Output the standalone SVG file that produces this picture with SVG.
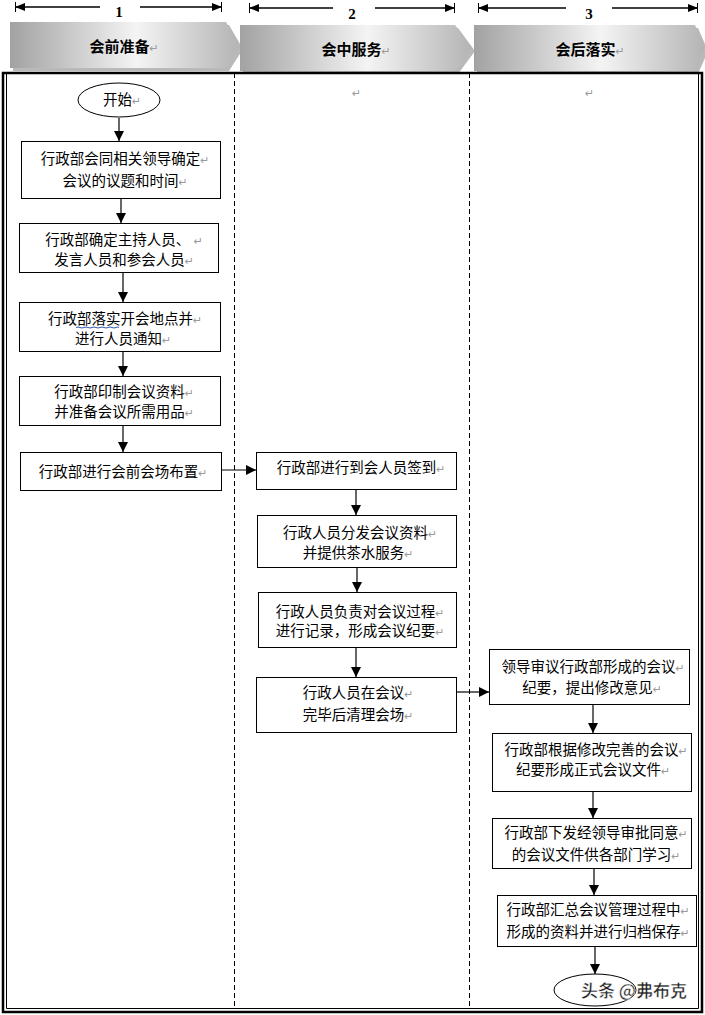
<svg xmlns="http://www.w3.org/2000/svg" width="705" height="1015" viewBox="0 0 705 1015">
<defs>
<linearGradient id="hg" x1="0" y1="0" x2="1" y2="0">
<stop offset="0" stop-color="#a2a2a2"/>
<stop offset="0.55" stop-color="#f4f4f4"/>
<stop offset="1" stop-color="#b4b4b4"/>
</linearGradient>
<marker id="ah" viewBox="0 0 10 10" refX="10" refY="5" markerWidth="10" markerHeight="10" markerUnits="userSpaceOnUse" orient="auto">
<path d="M0,0 L10,5 L0,10 z" fill="#000"/>
</marker>
<marker id="dimE" viewBox="0 0 10 10" refX="10" refY="5" markerWidth="10" markerHeight="10" markerUnits="userSpaceOnUse" orient="auto">
<path d="M0,1 L10,5 L0,9 z" fill="#000"/><path d="M10,0 L10,10" stroke="#000" stroke-width="2"/>
</marker>
<marker id="dimS" viewBox="0 0 10 10" refX="0" refY="5" markerWidth="10" markerHeight="10" markerUnits="userSpaceOnUse" orient="auto">
<path d="M10,1 L0,5 L10,9 z" fill="#000"/><path d="M0,0 L0,10" stroke="#000" stroke-width="2"/>
</marker>
</defs>
<style>
.box{fill:#fff;stroke:#000;stroke-width:1}
.t{font-family:"Noto Sans CJK SC","Noto Sans",sans-serif;font-size:14.5px;fill:#000;text-anchor:middle}
.h{font-family:"Noto Sans CJK SC","Noto Sans",sans-serif;font-size:15px;font-weight:bold;fill:#000;text-anchor:middle}
.n{font-family:"Liberation Serif",serif;font-size:15px;font-weight:bold;fill:#000;text-anchor:middle}
.p{font-family:"DejaVu Sans",sans-serif;font-size:11px;fill:#9a9a9a;font-weight:normal}
.c{fill:none;stroke:#000;stroke-width:1.2}
.lane{stroke:#000;stroke-width:1;stroke-dasharray:5,3}
</style>
<rect width="705" height="1015" fill="#fff"/>

<g id="dimensions">
<line x1="15" y1="7" x2="100" y2="7" stroke="#000" stroke-width="1.5" marker-start="url(#dimS)"/>
<line x1="140" y1="7" x2="222" y2="7" stroke="#000" stroke-width="1.5" marker-end="url(#dimE)"/>
<text class="n" x="119" y="17">1</text>
<line x1="249" y1="8" x2="333" y2="8" stroke="#000" stroke-width="1.5" marker-start="url(#dimS)"/>
<line x1="375" y1="8" x2="455" y2="8" stroke="#000" stroke-width="1.5" marker-end="url(#dimE)"/>
<text class="n" x="352" y="19">2</text>
<line x1="478" y1="8" x2="566" y2="8" stroke="#000" stroke-width="1.5" marker-start="url(#dimS)"/>
<line x1="612" y1="8" x2="698" y2="8" stroke="#000" stroke-width="1.5" marker-end="url(#dimE)"/>
<text class="n" x="589" y="19">3</text>
</g>

<g id="header1">
<polygon points="13,25 229,25 243,49 229,71 13,71" fill="#8a8a8a" opacity="0.6"/>
<polygon points="10,22 226,22 240,46 226,68 10,68" fill="url(#hg)"/>
<text class="h" x="124" y="52">会前准备<tspan class="p">↵</tspan></text>
</g>
<g id="header2">
<polygon points="243,28 458,28 475,51 458,74 243,74" fill="#8a8a8a" opacity="0.6"/>
<polygon points="240,25 455,25 472,48 455,71 240,71" fill="url(#hg)"/>
<text class="h" x="356" y="55">会中服务<tspan class="p">↵</tspan></text>
</g>
<g id="header3">
<polygon points="477,28 698,28 708,51 698,74 477,74" fill="#8a8a8a" opacity="0.6"/>
<polygon points="474,25 695,25 705,48 695,71 474,71" fill="url(#hg)"/>
<text class="h" x="590" y="55">会后落实<tspan class="p">↵</tspan></text>
</g>

<g id="frame">
<rect x="3" y="73" width="699" height="939" fill="none" stroke="#000" stroke-width="2.5"/>
<path d="M6.5,73 V1008.5 H698.5 V73" fill="none" stroke="#000" stroke-width="1"/>
<line x1="234.5" y1="73" x2="234.5" y2="1008" class="lane"/>
<line x1="469.5" y1="73" x2="469.5" y2="1008" class="lane"/>
<text class="p" x="352" y="97">↵</text>
<text class="p" x="585" y="97">↵</text>
</g>

<g id="connectors">
<line x1="119" y1="118" x2="119" y2="141" class="c" marker-end="url(#ah)"/>
<line x1="121" y1="198" x2="121" y2="223" class="c" marker-end="url(#ah)"/>
<line x1="123" y1="273" x2="123" y2="302" class="c" marker-end="url(#ah)"/>
<line x1="123" y1="352" x2="123" y2="376" class="c" marker-end="url(#ah)"/>
<line x1="123" y1="426" x2="123" y2="452" class="c" marker-end="url(#ah)"/>
<line x1="221" y1="470" x2="256" y2="470" class="c" marker-end="url(#ah)"/>
<line x1="356" y1="490" x2="356" y2="515" class="c" marker-end="url(#ah)"/>
<line x1="357" y1="567" x2="357" y2="592" class="c" marker-end="url(#ah)"/>
<line x1="356" y1="648" x2="356" y2="677" class="c" marker-end="url(#ah)"/>
<line x1="457" y1="692" x2="489" y2="692" class="c" marker-end="url(#ah)"/>
<line x1="593" y1="704" x2="593" y2="733" class="c" marker-end="url(#ah)"/>
<line x1="593" y1="792" x2="593" y2="818" class="c" marker-end="url(#ah)"/>
<line x1="594" y1="869" x2="594" y2="895" class="c" marker-end="url(#ah)"/>
<line x1="595" y1="947" x2="595" y2="974" class="c" marker-end="url(#ah)"/>
</g>

<g id="start">
<ellipse cx="119" cy="100" rx="41" ry="17" class="box"/>
<text class="t" x="122" y="105">开始<tspan class="p">↵</tspan></text>
</g>
<g id="n1">
<rect x="21.5" y="141.5" width="199" height="57" class="box"/>
<text class="t" x="125" y="164">行政部会同相关领导确定<tspan class="p">↵</tspan></text>
<text class="t" x="125" y="186">会议的议题和时间<tspan class="p">↵</tspan></text>
</g>
<g id="n2">
<rect x="19.5" y="223.5" width="199" height="49" class="box"/>
<text class="t" x="124" y="245">行政部确定主持人员、<tspan class="p"> ↵</tspan></text>
<text class="t" x="124" y="265">发言人员和参会人员<tspan class="p">↵</tspan></text>
</g>
<g id="n3">
<rect x="19.5" y="302.5" width="201" height="49" class="box"/>
<text class="t" x="125" y="324">行政部落实开会地点并<tspan class="p">↵</tspan></text>
<text class="t" x="123" y="344">进行人员通知<tspan class="p">↵</tspan></text>
<path d="M76,327.5 Q78,326.5 80,327.5 T84,327.5 T88,327.5 T92,327.5 T96,327.5 T100,327.5 T104,327.5 T108,327.5 T112,327.5 T116,327.5 T119,327.5" fill="none" stroke="#3355aa" stroke-width="1"/>
</g>
<g id="n4">
<rect x="19.5" y="376.5" width="201" height="49" class="box"/>
<text class="t" x="124" y="397">行政部印制会议资料<tspan class="p">↵</tspan></text>
<text class="t" x="124" y="417">并准备会议所需用品<tspan class="p">↵</tspan></text>
</g>
<g id="n5">
<rect x="20.5" y="452.5" width="201" height="38" class="box"/>
<text class="t" x="123" y="477">行政部进行会前会场布置<tspan class="p">↵</tspan></text>
</g>
<g id="n6">
<rect x="256.5" y="452.5" width="200" height="37" class="box"/>
<text class="t" x="361" y="473">行政部进行到会人员签到<tspan class="p">↵</tspan></text>
</g>
<g id="n7">
<rect x="257.5" y="515.5" width="199" height="52" class="box"/>
<text class="t" x="360" y="538">行政人员分发会议资料<tspan class="p">↵</tspan></text>
<text class="t" x="358" y="558">并提供茶水服务<tspan class="p">↵</tspan></text>
</g>
<g id="n8">
<rect x="258.5" y="592.5" width="198" height="55" class="box"/>
<text class="t" x="360" y="617">行政人员负责对会议过程<tspan class="p">↵</tspan></text>
<text class="t" x="360" y="636">进行记录，形成会议纪要<tspan class="p">↵</tspan></text>
</g>
<g id="n9">
<rect x="256.5" y="677.5" width="200" height="55" class="box"/>
<text class="t" x="358" y="698">行政人员在会议<tspan class="p">↵</tspan></text>
<text class="t" x="358" y="720">完毕后清理会场<tspan class="p">↵</tspan></text>
</g>
<g id="n10">
<rect x="489.5" y="649.5" width="200" height="55" class="box"/>
<text class="t" x="593" y="672">领导审议行政部形成的会议<tspan class="p">↵</tspan></text>
<text class="t" x="592" y="693">纪要，提出修改意见<tspan class="p">↵</tspan></text>
</g>
<g id="n11">
<rect x="492.5" y="733.5" width="199" height="58" class="box"/>
<text class="t" x="596" y="755">行政部根据修改完善的会议<tspan class="p">↵</tspan></text>
<text class="t" x="593" y="775">纪要形成正式会议文件<tspan class="p">↵</tspan></text>
</g>
<g id="n12">
<rect x="492.5" y="818.5" width="199" height="50" class="box"/>
<text class="t" x="596" y="838">行政部下发经领导审批同意<tspan class="p">↵</tspan></text>
<text class="t" x="596" y="860">的会议文件供各部门学习<tspan class="p">↵</tspan></text>
</g>
<g id="n13">
<rect x="497.5" y="895.5" width="199" height="51" class="box"/>
<text class="t" x="598" y="915">行政部汇总会议管理过程中<tspan class="p">↵</tspan></text>
<text class="t" x="598" y="937">形成的资料并进行归档保存<tspan class="p">↵</tspan></text>
</g>
<g id="end">
<ellipse cx="595" cy="990" rx="41" ry="16" class="box"/>
<text x="634" y="997" style="font-family:'Noto Sans CJK SC',sans-serif;font-size:17px;font-weight:bold;fill:#222;stroke:#fff;stroke-width:0.5;text-anchor:middle">头条 @弗布克</text>
</g>
</svg>
